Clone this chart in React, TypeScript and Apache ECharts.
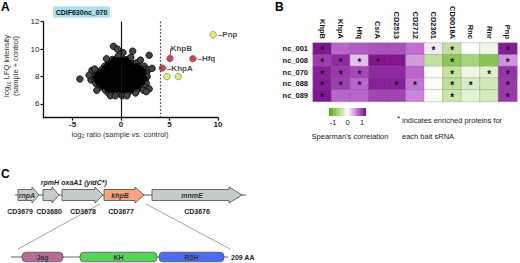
import React, { useEffect, useRef } from "react";
import * as echarts from "echarts";

const FONT = '"Liberation Sans", Arial, Helvetica, sans-serif';

// ---------- Panel A data ----------
const xTicks = [-5, 0, 5, 10];
const yTicks = [6, 8, 10, 12];
const cloudPoints: [number, number][] = [
  [-0.9, 9.25], [-0.5, 9.25], [-0.1, 9.25], [0.3, 9.25], [0.7, 9.25],
  [-1.3, 9.0], [-0.9, 9.0], [-0.5, 9.0], [-0.1, 9.0], [0.3, 9.0], [0.7, 9.0], [1.1, 9.0], [1.6, 9.0],
  [-1.7, 8.75], [-1.3, 8.75], [-0.9, 8.75], [-0.5, 8.75], [-0.1, 8.75], [0.3, 8.75], [0.7, 8.75], [1.1, 8.75], [1.5, 8.75], [1.9, 8.75], [2.4, 8.75],
  [-2.0, 8.5], [-1.6, 8.5], [-1.2, 8.5], [-0.8, 8.5], [-0.4, 8.5], [0.0, 8.5], [0.4, 8.5], [0.8, 8.5], [1.2, 8.5], [1.6, 8.5], [2.0, 8.5], [2.4, 8.5], [2.8, 8.5], [3.2, 8.6],
  [-2.6, 8.25], [-2.2, 8.25], [-1.8, 8.25], [-1.4, 8.25], [-1.0, 8.25], [-0.6, 8.25], [-0.2, 8.25], [0.2, 8.25], [0.6, 8.25], [1.0, 8.25], [1.4, 8.25], [1.8, 8.25], [2.2, 8.25], [2.6, 8.25],
  [-2.9, 8.0], [-2.5, 8.0], [-2.1, 8.0], [-1.7, 8.0], [-1.3, 8.0], [-0.9, 8.0], [-0.5, 8.0], [-0.1, 8.0], [0.3, 8.0], [0.7, 8.0], [1.1, 8.0], [1.5, 8.0], [1.9, 8.0], [2.3, 8.0], [2.7, 8.0],
  [-3.1, 7.75], [-2.7, 7.75], [-2.3, 7.75], [-1.9, 7.75], [-1.5, 7.75], [-1.1, 7.75], [-0.7, 7.75], [-0.3, 7.75], [0.1, 7.75], [0.5, 7.75], [0.9, 7.75], [1.3, 7.75], [1.7, 7.75], [2.1, 7.75], [2.5, 7.75],
  [-2.6, 7.5], [-2.2, 7.5], [-1.8, 7.5], [-1.4, 7.5], [-1.0, 7.5], [-0.6, 7.5], [-0.2, 7.5], [0.2, 7.5], [0.6, 7.5], [1.0, 7.5], [1.4, 7.5], [1.8, 7.5], [2.2, 7.5], [2.6, 7.5],
  [-2.1, 7.25], [-1.7, 7.25], [-1.3, 7.25], [-0.9, 7.25], [-0.5, 7.25], [-0.1, 7.25], [0.3, 7.25], [0.7, 7.25], [1.1, 7.25], [1.5, 7.25], [1.9, 7.25], [2.4, 7.25],
  [-1.6, 7.0], [-1.2, 7.0], [-0.8, 7.0], [-0.4, 7.0], [0.0, 7.0], [0.4, 7.0], [0.8, 7.0], [1.2, 7.0], [1.6, 7.0], [2.3, 7.0],
  [-1.3, 6.8], [-0.9, 6.8], [-0.5, 6.8], [-0.1, 6.8], [0.3, 6.8], [0.7, 6.8], [1.5, 6.8],
  [-1.1, 6.6], [-0.6, 6.6], [0.1, 6.6], [0.6, 6.6],
  [-0.78, 10.2], [-0.37, 10.0], [0.2, 9.75], [1.2, 9.85], [2.9, 9.55], [-4.25, 7.82],
  [-3.0, 8.45], [-2.7, 8.55], [-3.3, 8.1], [2.0, 9.2], [-1.5, 9.3], [1.0, 9.4],
  [2.9, 7.1], [2.6, 6.9], [-2.5, 7.0], [-0.3, 9.5],
];
// densest centre of the cloud, where the overlapping points read as solid black
const cloudCore: [number, number][] = [
  [-0.7, 9.125], [-0.3, 9.125], [0.1, 9.125], [0.5, 9.125],
  [-1.1, 8.875], [-0.7, 8.875], [-0.3, 8.875], [0.1, 8.875], [0.5, 8.875], [0.9, 8.875],
  [-1.5, 8.625], [-1.1, 8.625], [-0.7, 8.625], [-0.3, 8.625], [0.1, 8.625], [0.5, 8.625], [0.9, 8.625], [1.3, 8.625], [1.7, 8.625],
  [-1.8, 8.375], [-1.4, 8.375], [-1.0, 8.375], [-0.6, 8.375], [-0.2, 8.375], [0.2, 8.375], [0.6, 8.375], [1.0, 8.375], [1.4, 8.375], [1.8, 8.375], [2.2, 8.375],
  [-2.3, 8.125], [-1.9, 8.125], [-1.5, 8.125], [-1.1, 8.125], [-0.7, 8.125], [-0.3, 8.125], [0.1, 8.125], [0.5, 8.125], [0.9, 8.125], [1.3, 8.125], [1.7, 8.125], [2.1, 8.125],
  [-2.5, 7.875], [-2.1, 7.875], [-1.7, 7.875], [-1.3, 7.875], [-0.9, 7.875], [-0.5, 7.875], [-0.1, 7.875], [0.3, 7.875], [0.7, 7.875], [1.1, 7.875], [1.5, 7.875], [1.9, 7.875], [2.3, 7.875],
  [-2.3, 7.625], [-1.9, 7.625], [-1.5, 7.625], [-1.1, 7.625], [-0.7, 7.625], [-0.3, 7.625], [0.1, 7.625], [0.5, 7.625], [0.9, 7.625], [1.3, 7.625], [1.7, 7.625], [2.1, 7.625],
  [-1.9, 7.375], [-1.5, 7.375], [-1.1, 7.375], [-0.7, 7.375], [-0.3, 7.375], [0.1, 7.375], [0.5, 7.375], [0.9, 7.375], [1.3, 7.375], [1.7, 7.375],
  [-1.3, 7.125], [-0.9, 7.125], [-0.5, 7.125], [-0.1, 7.125], [0.3, 7.125], [0.7, 7.125], [1.1, 7.125],
];
const hitNames = ["KhpB", "Hfq", "KhpA"];
const hitX = [5.05, 7.4, 4.25];
const hitY = [9.32, 9.3, 8.62];
const otherNames = ["Pnp", "", ""];
const otherX = [9.5, 4.73, 5.9];
const otherY = [11.05, 8.0, 8.0];

// ---------- Panel B data ----------
const proteins = ["KhpB", "KhpA", "Hfq", "CsrA", "CD2513", "CD2712", "CD2361", "CD0018A", "Rnc", "Rnr", "Pnp"];
const srnas = ["nc_001", "nc_008", "nc_070", "nc_088", "nc_089"];
const corr001 = [0.95, 0.55, 0.6, 0.65, 0.65, 0.5, 0.08, -0.4, 0.0, -0.12, 0.92];
const corr008 = [0.75, 0.85, 0.22, 0.95, 0.95, 0.35, -0.4, -0.7, -0.55, -0.72, 0.38];
const corr070 = [0.9, 0.78, 0.7, 0.85, 0.85, 0.55, -0.03, -0.38, -0.12, -0.2, 0.8];
const corr088 = [0.92, 0.75, 0.55, 0.9, 0.9, 0.48, -0.03, -0.42, -0.25, -0.3, 0.78];
const corr089 = [0.95, 0.55, 0.55, 0.72, 0.72, 0.42, -0.03, -0.35, -0.18, -0.28, 0.78];
const star001 = [1, 0, 0, 0, 0, 0, 1, 1, 0, 0, 1];
const star008 = [1, 1, 1, 1, 0, 0, 0, 1, 0, 0, 1];
const star070 = [1, 1, 1, 0, 0, 0, 0, 1, 0, 1, 1];
const star088 = [1, 1, 1, 0, 1, 1, 0, 1, 1, 0, 1];
const star089 = [1, 0, 0, 0, 0, 0, 0, 1, 0, 0, 1];
const legendTicks = ["-1", "0", "1"];

// ---------- Panel C labels ----------
const geneTags = ["CD3679", "CD3680", "CD3678", "CD3677", "CD3676"];
const domainNames = ["Jag", "KH", "R3H"];

function arrow(x0: number, x1: number, cy: number, head: number, fill: string) {
  const bh = 5.5;
  const hh = 8;
  return {
    type: "polygon",
    z: 5,
    shape: {
      points: [
        [x0, cy - bh], [x1 - head, cy - bh], [x1 - head, cy - hh], [x1, cy],
        [x1 - head, cy + hh], [x1 - head, cy + bh], [x0, cy + bh],
      ],
    },
    style: { fill, stroke: "#4a4a4a", lineWidth: 0.8 },
  };
}

function txt(x: number, y: number, text: string, o: any = {}) {
  return {
    type: "text",
    z: 10,
    x,
    y,
    style: {
      text,
      fontFamily: FONT,
      fontSize: o.fontSize ?? 7.5,
      fontWeight: o.fontWeight ?? "normal",
      fontStyle: o.fontStyle ?? "normal",
      fill: o.fill ?? "#222",
      textAlign: o.align ?? "center",
      textVerticalAlign: "middle",
      rich: o.rich,
    },
    rotation: o.rotation ?? 0,
  };
}

export default function App() {
  const ref = useRef<HTMLDivElement>(null);
  useEffect(() => {
    if (!ref.current) return;
    const chart = echarts.init(ref.current, null, { renderer: "svg" });
    const corrRows = [corr001, corr008, corr070, corr088, corr089];
    const starRows = [star001, star008, star070, star088, star089];
    const heatData = corrRows.flatMap((row, r) => row.map((v, c) => [c, r, v]));

    const geneCy = 195;
    const domCy = 257;
    const graphics: any[] = [
      txt(1, 7, "A", { fontSize: 12, fontWeight: "bold", align: "left", fill: "#000" }),
      txt(275, 7, "B", { fontSize: 12, fontWeight: "bold", align: "left", fill: "#000" }),
      txt(1, 174, "C", { fontSize: 12, fontWeight: "bold", align: "left", fill: "#000" }),
      { type: "rect", z: 4, shape: { x: 53, y: 6.5, width: 57, height: 11 }, style: { fill: "#a9dff0" } },
      txt(81.5, 12.2, "CDIF630nc_070", { fontSize: 7, fontWeight: "bold", fill: "#111" }),
      {
        type: "text", z: 10, x: 11, y: 66, rotation: Math.PI / 2,
        style: {
          text: "log{s|10} LFQ intensity\n(sample + control)",
          fontFamily: FONT, fontSize: 7.5, fill: "#333", textAlign: "center", textVerticalAlign: "middle",
          lineHeight: 8.5,
          rich: { s: { fontSize: 5, fontFamily: FONT, fill: "#333", verticalAlign: "bottom", lineHeight: 8.5 } },
        },
      },
      {
        type: "text", z: 10, x: 120, y: 134.5,
        style: {
          text: "log{s|2} ratio (sample vs. control)",
          fontFamily: FONT, fontSize: 7.5, fill: "#333", textAlign: "center", textVerticalAlign: "middle",
          rich: { s: { fontSize: 5, fontFamily: FONT, fill: "#333", verticalAlign: "bottom" } },
        },
      },
      {
        type: "rect", z: 4, shape: { x: 329, y: 108, width: 37, height: 8 },
        style: {
          fill: new echarts.graphic.LinearGradient(0, 0, 1, 0, [
            { offset: 0, color: "#5aa814" },
            { offset: 0.25, color: "#a9d67c" },
            { offset: 0.5, color: "#ffffff" },
            { offset: 0.75, color: "#c67bd8" },
            { offset: 1, color: "#7a0b8c" },
          ]),
        },
      },
      txt(333, 122, legendTicks[0], { fontSize: 7.5 }),
      txt(347.5, 122, legendTicks[1], { fontSize: 7.5 }),
      txt(362, 122, legendTicks[2], { fontSize: 7.5 }),
      txt(350, 136, "Spearman's correlation", { fontSize: 7.5 }),
      txt(397, 118, "*", { fontSize: 8, align: "left", fill: "#111" }),
      txt(402, 120, "indicates enriched proteins for", { fontSize: 7.5, align: "left" }),
      txt(402, 136, "each bait sRNA", { fontSize: 7.5, align: "left" }),
      { type: "line", z: 3, shape: { x1: 15, y1: geneCy, x2: 246, y2: geneCy }, style: { stroke: "#555", lineWidth: 1 } },
      arrow(18, 39, geneCy, 7, "#c3cccb"),
      arrow(43, 59, geneCy, 7, "#c3cccb"),
      arrow(62, 103, geneCy, 8, "#c3cccb"),
      arrow(104, 144, geneCy, 9, "#f7a57c"),
      arrow(152, 242, geneCy, 13, "#c3cccb"),
      txt(27, geneCy, "rnpA", { fontSize: 7, fontWeight: "bold", fontStyle: "italic", fill: "#333" }),
      txt(120, geneCy, "khpB", { fontSize: 7, fontWeight: "bold", fontStyle: "italic", fill: "#333" }),
      txt(192, geneCy, "mnmE", { fontSize: 7, fontWeight: "bold", fontStyle: "italic", fill: "#333" }),
      txt(50, 182, "rpmH", { fontSize: 7, fontWeight: "bold", fontStyle: "italic", fill: "#222" }),
      txt(84, 182, "oxaA1 (yidC*)", { fontSize: 7, fontWeight: "bold", fontStyle: "italic", fill: "#222" }),
      txt(20, 211, geneTags[0], { fontSize: 7, fontWeight: "bold", fill: "#222" }),
      txt(49, 211, geneTags[1], { fontSize: 7, fontWeight: "bold", fill: "#222" }),
      txt(83, 211, geneTags[2], { fontSize: 7, fontWeight: "bold", fill: "#222" }),
      txt(121, 211, geneTags[3], { fontSize: 7, fontWeight: "bold", fill: "#222" }),
      txt(197, 211, geneTags[4], { fontSize: 7, fontWeight: "bold", fill: "#222" }),
      { type: "line", z: 3, shape: { x1: 100, y1: 204, x2: 18, y2: 249 }, style: { stroke: "#666", lineWidth: 0.6 } },
      { type: "line", z: 3, shape: { x1: 146, y1: 204, x2: 230, y2: 249 }, style: { stroke: "#666", lineWidth: 0.6 } },
      { type: "line", z: 3, shape: { x1: 11, y1: domCy, x2: 228, y2: domCy }, style: { stroke: "#666", lineWidth: 1 } },
      { type: "rect", z: 5, shape: { x: 22, y: domCy - 4.8, width: 41, height: 9.6, r: 4 }, style: { fill: "#b46e93", stroke: "#4a4a4a", lineWidth: 0.7 } },
      { type: "rect", z: 5, shape: { x: 80, y: domCy - 4.8, width: 77, height: 9.6, r: 4 }, style: { fill: "#58d258", stroke: "#4a4a4a", lineWidth: 0.7 } },
      { type: "rect", z: 5, shape: { x: 159, y: domCy - 4.8, width: 65, height: 9.6, r: 4 }, style: { fill: "#4a6cf0", stroke: "#4a4a4a", lineWidth: 0.7 } },
      txt(42.5, domCy, domainNames[0], { fontSize: 7, fontWeight: "bold", fill: "#333" }),
      txt(118.5, domCy, domainNames[1], { fontSize: 7, fontWeight: "bold", fill: "#333" }),
      txt(191.5, domCy, domainNames[2], { fontSize: 7, fontWeight: "bold", fill: "#333" }),
      txt(231, domCy, "209 AA", { fontSize: 7, fontWeight: "bold", align: "left", fill: "#222" }),
    ];

    const hitData = hitNames.map((n, i) => ({ name: n, value: [hitX[i], hitY[i]] }));
    const otherData = otherNames.map((n, i) => ({ name: n, value: [otherX[i], otherY[i]] }));
    const lblBase = { fontFamily: FONT, fontWeight: "bold", fontSize: 8, color: "#111" };

    chart.setOption({
      animation: false,
      textStyle: { fontFamily: FONT },
      grid: [
        { left: 43.5, top: 21.7, width: 174.5, height: 96 },
        { left: 313, top: 43, width: 204, height: 58.5 },
      ],
      xAxis: [
        {
          gridIndex: 0, type: "value", min: -8, max: 10,
          splitLine: { show: false },
          axisLine: { onZero: false, lineStyle: { color: "#111", width: 1.3 } },
          axisTick: { customValues: xTicks, length: 3, lineStyle: { color: "#111", width: 1.2 } },
          axisLabel: { customValues: xTicks, fontFamily: FONT, fontWeight: "bold", fontSize: 8, color: "#222", margin: 2.5 },
        },
        {
          gridIndex: 1, type: "category", data: proteins, position: "top",
          axisLine: { show: false }, axisTick: { show: false },
          axisLabel: { rotate: 90, interval: 0, fontFamily: FONT, fontWeight: "bold", fontSize: 7.5, color: "#111", margin: 4 },
        },
      ],
      yAxis: [
        {
          gridIndex: 0, type: "value", min: 5, max: 12,
          splitLine: { show: false },
          axisLine: { show: true, onZero: false, lineStyle: { color: "#111", width: 1.3 } },
          axisTick: { show: true, customValues: yTicks, length: 3, lineStyle: { color: "#111", width: 1.2 } },
          axisLabel: { customValues: yTicks, fontFamily: FONT, fontSize: 8, color: "#222", margin: 4 },
        },
        {
          gridIndex: 1, type: "category", data: srnas, inverse: true,
          axisLine: { show: false }, axisTick: { show: false },
          axisLabel: { fontFamily: FONT, fontWeight: "bold", fontSize: 7.5, color: "#111", margin: 5 },
        },
      ],
      visualMap: {
        show: false, type: "continuous", min: -1, max: 1, seriesIndex: 4,
        inRange: { color: ["#5aa814", "#b0da86", "#ffffff", "#c070d3", "#7a0b8c"] },
      },
      graphic: graphics,
      series: [
        {
          type: "scatter", xAxisIndex: 0, yAxisIndex: 0, data: cloudPoints, symbolSize: 6.5, z: 2,
          itemStyle: { color: "#444444", borderColor: "#000", borderWidth: 0.8, opacity: 1 },
          markLine: {
            silent: true, symbol: ["none", "none"], label: { show: false },
            data: [
              { xAxis: 0, lineStyle: { type: "solid", color: "#111", width: 1.2 } },
              { xAxis: 4, lineStyle: { type: [1.5, 2], color: "#333", width: 1.2 } },
            ],
          },
        },
        {
          type: "scatter", xAxisIndex: 0, yAxisIndex: 0, data: cloudCore, symbolSize: 7.5, z: 3,
          itemStyle: { color: "#000000", borderColor: "#000", borderWidth: 0.5, opacity: 1 },
        },
        {
          type: "scatter", xAxisIndex: 0, yAxisIndex: 0, data: hitData, symbolSize: 6.5, z: 4,
          itemStyle: { color: "#c3161e", borderColor: "#555", borderWidth: 0.8 },
          label: {
            show: true, position: "right", distance: 1, ...lblBase,
            formatter: (p: any) => (p.name === "KhpB" ? "KhpB" : "–" + p.name),
          },
          labelLayout: (p: any) => (p.text === "KhpB" ? { dx: -4, dy: -10 } : {}),
          labelLine: { show: true, length2: 0, lineStyle: { color: "#333", width: 0.8 } },
        },
        {
          type: "scatter", xAxisIndex: 0, yAxisIndex: 0, data: otherData, symbolSize: 6.5, z: 4,
          itemStyle: { color: "#e2e84c", borderColor: "#8a8a6a", borderWidth: 1 },
          label: {
            show: true, position: "right", distance: 1, ...lblBase,
            formatter: (p: any) => (p.name ? "–" + p.name : ""),
          },
        },
        {
          type: "heatmap", xAxisIndex: 1, yAxisIndex: 1, data: heatData,
          itemStyle: { borderColor: "rgba(110,110,110,0.55)", borderWidth: 0.5 },
          label: {
            show: true, fontFamily: FONT, fontSize: 10, fontWeight: "bold", color: "#111", offset: [0, 2],
            formatter: (p: any) => (starRows[p.data[1]][p.data[0]] ? "*" : ""),
          },
          emphasis: { disabled: true },
        },
      ],
    });
    return () => chart.dispose();
  }, []);
  return (
    <div
      ref={ref}
      style={{ position: "absolute", left: 0, top: 0, width: 520, height: 263, background: "#fff" }}
    />
  );
}
